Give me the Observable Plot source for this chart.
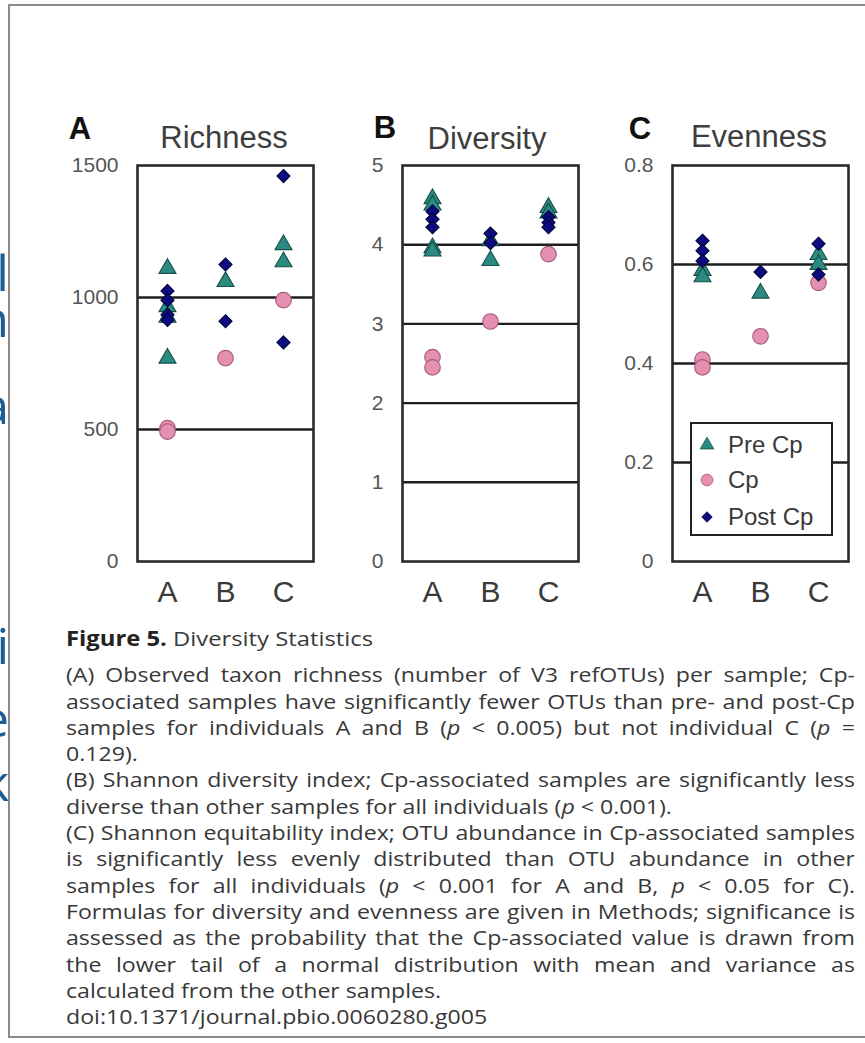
<!DOCTYPE html>
<html>
<head>
<meta charset="utf-8">
<script src="https://cdn.jsdelivr.net/npm/d3@7"></script>
<script src="https://cdn.jsdelivr.net/npm/@observablehq/plot@0.6"></script>
<style>
  html, body { margin: 0; padding: 0; background: #fff; }
  #root { position: relative; width: 865px; height: 1043px; overflow: hidden; background: #fff; font-family: "Liberation Sans", Arial, sans-serif; }
  .border { position: absolute; left: 8px; top: 4px; width: 900px; height: 1034px; border: 2px solid #8c8c8c; border-right: none; box-sizing: border-box; }
  .frag { position: absolute; left: -80px; width: 89px; overflow: hidden; text-align: right; font-family: "Open Sans", sans-serif; font-size: 50px; color: #1d5d92; line-height: 1; white-space: nowrap; }
  .panel { position: absolute; top: 100px; }
  .panel svg { background: transparent !important; overflow: visible; }
  .ltr { position: absolute; transform: translate(-50%, -50%); font-weight: bold; font-size: 31px; color: #111; line-height: 1; }
  .ttl { position: absolute; transform: translate(-50%, -50%); font-size: 31px; color: #3e3e3e; line-height: 1; white-space: nowrap; }
  .legend { position: absolute; left: 690px; top: 422px; width: 143px; height: 114px; border: 2px solid #222; background: #fff; box-sizing: border-box; }
  .lrow { position: absolute; left: 0; height: 30px; display: flex; align-items: center; }
  .lrow svg { margin-left: 6px; }
  .lrow span { margin-left: 12px; font-size: 24px; color: #3a3a3a; white-space: nowrap; }
  #caption { position: absolute; left: 66px; top: 625px; font-family: "Open Sans", sans-serif; color: #383838; transform-origin: 0 0; }
  #caption .head { line-height: 26.3px; height: 26.3px; margin-bottom: 11px; white-space: nowrap; }
  #caption .head b { color: #222; }
  #caption .ln { line-height: 26.3px; height: 26.3px; overflow: hidden; }
  #caption.ready .ln { text-align: justify; text-align-last: justify; }
  #caption.ready .ln.last { text-align-last: left; }
</style>
</head>
<body>
<div id="root">
  <div class="border"></div>
  <div id="frags"></div>
  <div id="pA" class="panel" style="left:40px"></div>
  <div id="pB" class="panel" style="left:305px"></div>
  <div id="pC" class="panel" style="left:575px"></div>
  <div class="ltr" style="left:80px;top:128px">A</div>
  <div class="ttl" style="left:224px;top:137px">Richness</div>
  <div class="ltr" style="left:385px;top:127px">B</div>
  <div class="ttl" style="left:487px;top:138px">Diversity</div>
  <div class="ltr" style="left:640px;top:128px">C</div>
  <div class="ttl" style="left:759px;top:136px">Evenness</div>
  <div class="legend" id="legend"></div>
  <div id="caption"></div>
</div>
<script>
// ---------- data ----------
const individuals = ["A", "B", "C"];
const seriesNames = ["Pre Cp", "Cp", "Post Cp"];

const richnessTicks = [0, 500, 1000, 1500];
const richnessGrid = [500, 1000];
const richnessPreCp = [["A", 1110], ["A", 965], ["A", 925], ["A", 770], ["B", 1060], ["C", 1200], ["C", 1135]];
const richnessCp = [["A", 505], ["A", 492], ["B", 770], ["C", 990]];
const richnessPostCp = [["A", 1025], ["A", 990], ["A", 935], ["A", 915], ["B", 1125], ["B", 910], ["C", 1460], ["C", 830]];

const diversityTicks = [0, 1, 2, 3, 4, 5];
const diversityGrid = [1, 2, 3, 4];
const diversityPreCp = [["A", 4.58], ["A", 4.50], ["A", 3.96], ["A", 3.92], ["B", 4.05], ["B", 3.80], ["C", 4.47], ["C", 4.40]];
const diversityCp = [["A", 2.58], ["A", 2.45], ["B", 3.03], ["C", 3.88]];
const diversityPostCp = [["A", 4.42], ["A", 4.32], ["A", 4.22], ["B", 4.14], ["B", 4.02], ["C", 4.35], ["C", 4.28], ["C", 4.22]];

const evennessTicks = [0, 0.2, 0.4, 0.6, 0.8];
const evennessGrid = [0.2, 0.4, 0.6];
const evennessPreCp = [["A", 0.588], ["A", 0.575], ["B", 0.542], ["C", 0.620], ["C", 0.600]];
const evennessCp = [["A", 0.408], ["A", 0.392], ["B", 0.455], ["C", 0.563]];
const evennessPostCp = [["A", 0.648], ["A", 0.628], ["A", 0.607], ["B", 0.585], ["C", 0.642], ["C", 0.580]];

const captionHead = ["Figure 5.", "Diversity Statistics"];
const captionLines = [
  ["(A) Observed taxon richness (number of V3 refOTUs) per sample; Cp-", false],
  ["associated samples have significantly fewer OTUs than pre- and post-Cp", false],
  ["samples for individuals A and B (<i>p</i> &lt; 0.005) but not individual C (<i>p</i> =", false],
  ["0.129).", true],
  ["(B) Shannon diversity index; Cp-associated samples are significantly less", false],
  ["diverse than other samples for all individuals (<i>p</i> &lt; 0.001).", true],
  ["(C) Shannon equitability index; OTU abundance in Cp-associated samples", false],
  ["is significantly less evenly distributed than OTU abundance in other", false],
  ["samples for all individuals (<i>p</i> &lt; 0.001 for A and B, <i>p</i> &lt; 0.05 for C).", false],
  ["Formulas for diversity and evenness are given in Methods; significance is", false],
  ["assessed as the probability that the Cp-associated value is drawn from", false],
  ["the lower tail of a normal distribution with mean and variance as", false],
  ["calculated from the other samples.", true],
  ["doi:10.1371/journal.pbio.0060280.g005", true]
];

const bgFragments = [["el", 247], ["n", 293], ["a", 380], ["i", 620], ["e", 693], ["k", 757]];

// ---------- styles ----------
const sty = {
  "Pre Cp": {symbol: "triangle", r: 6.3, fill: "#2b8b81", stroke: "#164f4a"},
  "Cp": {symbol: "circle", r: 7.8, fill: "#e58fb1", stroke: "#a55b7d"},
  "Post Cp": {symbol: "diamond2", r: 5.9, fill: "#0c0c7e", stroke: "#00003c"}
};

function panel(el, ticks, grid, pre, cp, post) {
  const dots = (data, name) => Plot.dot(data, {
    x: d => d[0], y: d => d[1],
    symbol: sty[name].symbol, r: sty[name].r,
    fill: sty[name].fill, stroke: sty[name].stroke, strokeWidth: 1.1
  });
  const chart = Plot.plot({
    width: 290, height: 530,
    marginLeft: 97, marginRight: 17, marginTop: 65, marginBottom: 69,
    style: {background: "transparent", overflow: "visible", fontFamily: "Liberation Sans, Arial, sans-serif"},
    x: {type: "point", domain: individuals, padding: 0.5, axis: null},
    y: {domain: [ticks[0], ticks[ticks.length - 1]], axis: null},
    marks: [
      Plot.ruleY(grid, {stroke: "#1e1e1e", strokeWidth: 2.4}),
      dots(pre, "Pre Cp"),
      dots(cp, "Cp"),
      dots(post, "Post Cp"),
      Plot.frame({stroke: "#2a2a2a", strokeWidth: 2.6}),
      Plot.axisY(ticks, {tickSize: 0, tickPadding: 19, fontSize: 21, fill: "#555", label: null, tickFormat: d => String(d)}),
      Plot.axisX(individuals, {tickSize: 0, tickPadding: 19, fontSize: 30, fill: "#3a3a3a", label: null})
    ]
  });
  document.getElementById(el).appendChild(chart);
}

panel("pA", richnessTicks, richnessGrid, richnessPreCp, richnessCp, richnessPostCp);
panel("pB", diversityTicks, diversityGrid, diversityPreCp, diversityCp, diversityPostCp);
panel("pC", evennessTicks, evennessGrid, evennessPreCp, evennessCp, evennessPostCp);

// ---------- legend ----------
const legend = document.getElementById("legend");
const legendSym = {"Pre Cp": [d3.symbolTriangle, 80], "Cp": [d3.symbolCircle, 110], "Post Cp": [d3.symbolDiamond2, 70]};
const rowTops = [6, 41, 78];
seriesNames.forEach((name, i) => {
  const row = document.createElement("div");
  row.className = "lrow";
  row.style.top = rowTops[i] + "px";
  const [sym, size] = legendSym[name];
  const path = d3.symbol(sym, size)();
  row.innerHTML = `<svg width="18" height="18" viewBox="-9 -9 18 18"><path d="${path}" fill="${sty[name].fill}" stroke="${sty[name].stroke}" stroke-width="0.8"/></svg><span>${name}</span>`;
  legend.appendChild(row);
});

// ---------- background fragments ----------
const frags = document.getElementById("frags");
bgFragments.forEach(([t, top]) => {
  const d = document.createElement("div");
  d.className = "frag";
  d.style.top = top + "px";
  d.textContent = t;
  frags.appendChild(d);
});

// ---------- caption ----------
const colW = 789;
const bodyFont = 20;
const cap = document.getElementById("caption");
cap.style.fontSize = bodyFont + "px";
const head = document.createElement("div");
head.className = "head";
head.innerHTML = `<span><b>${captionHead[0]}</b> ${captionHead[1]}</span>`;
cap.appendChild(head);
const lineEls = captionLines.map(([html, last]) => {
  const d = document.createElement("div");
  d.className = "ln" + (last ? " last" : "");
  d.innerHTML = `<span style="white-space:nowrap">${html}</span>`;
  cap.appendChild(d);
  return d;
});
// measure natural widths (left aligned, untransformed), then scale horizontally so the widest line fills the column
const maxW = Math.max(...lineEls.map(d => d.firstChild.getBoundingClientRect().width));
const headW = head.firstChild.getBoundingClientRect().width;
const sx = (colW - 4) / maxW;
cap.style.width = (colW / sx) + "px";
cap.style.transform = `scaleX(${sx})`;
head.style.fontSize = (bodyFont * (307 / (headW * sx))) + "px";
lineEls.forEach(d => { d.innerHTML = d.firstChild.innerHTML; });
cap.classList.add("ready");
</script>
</body>
</html>
